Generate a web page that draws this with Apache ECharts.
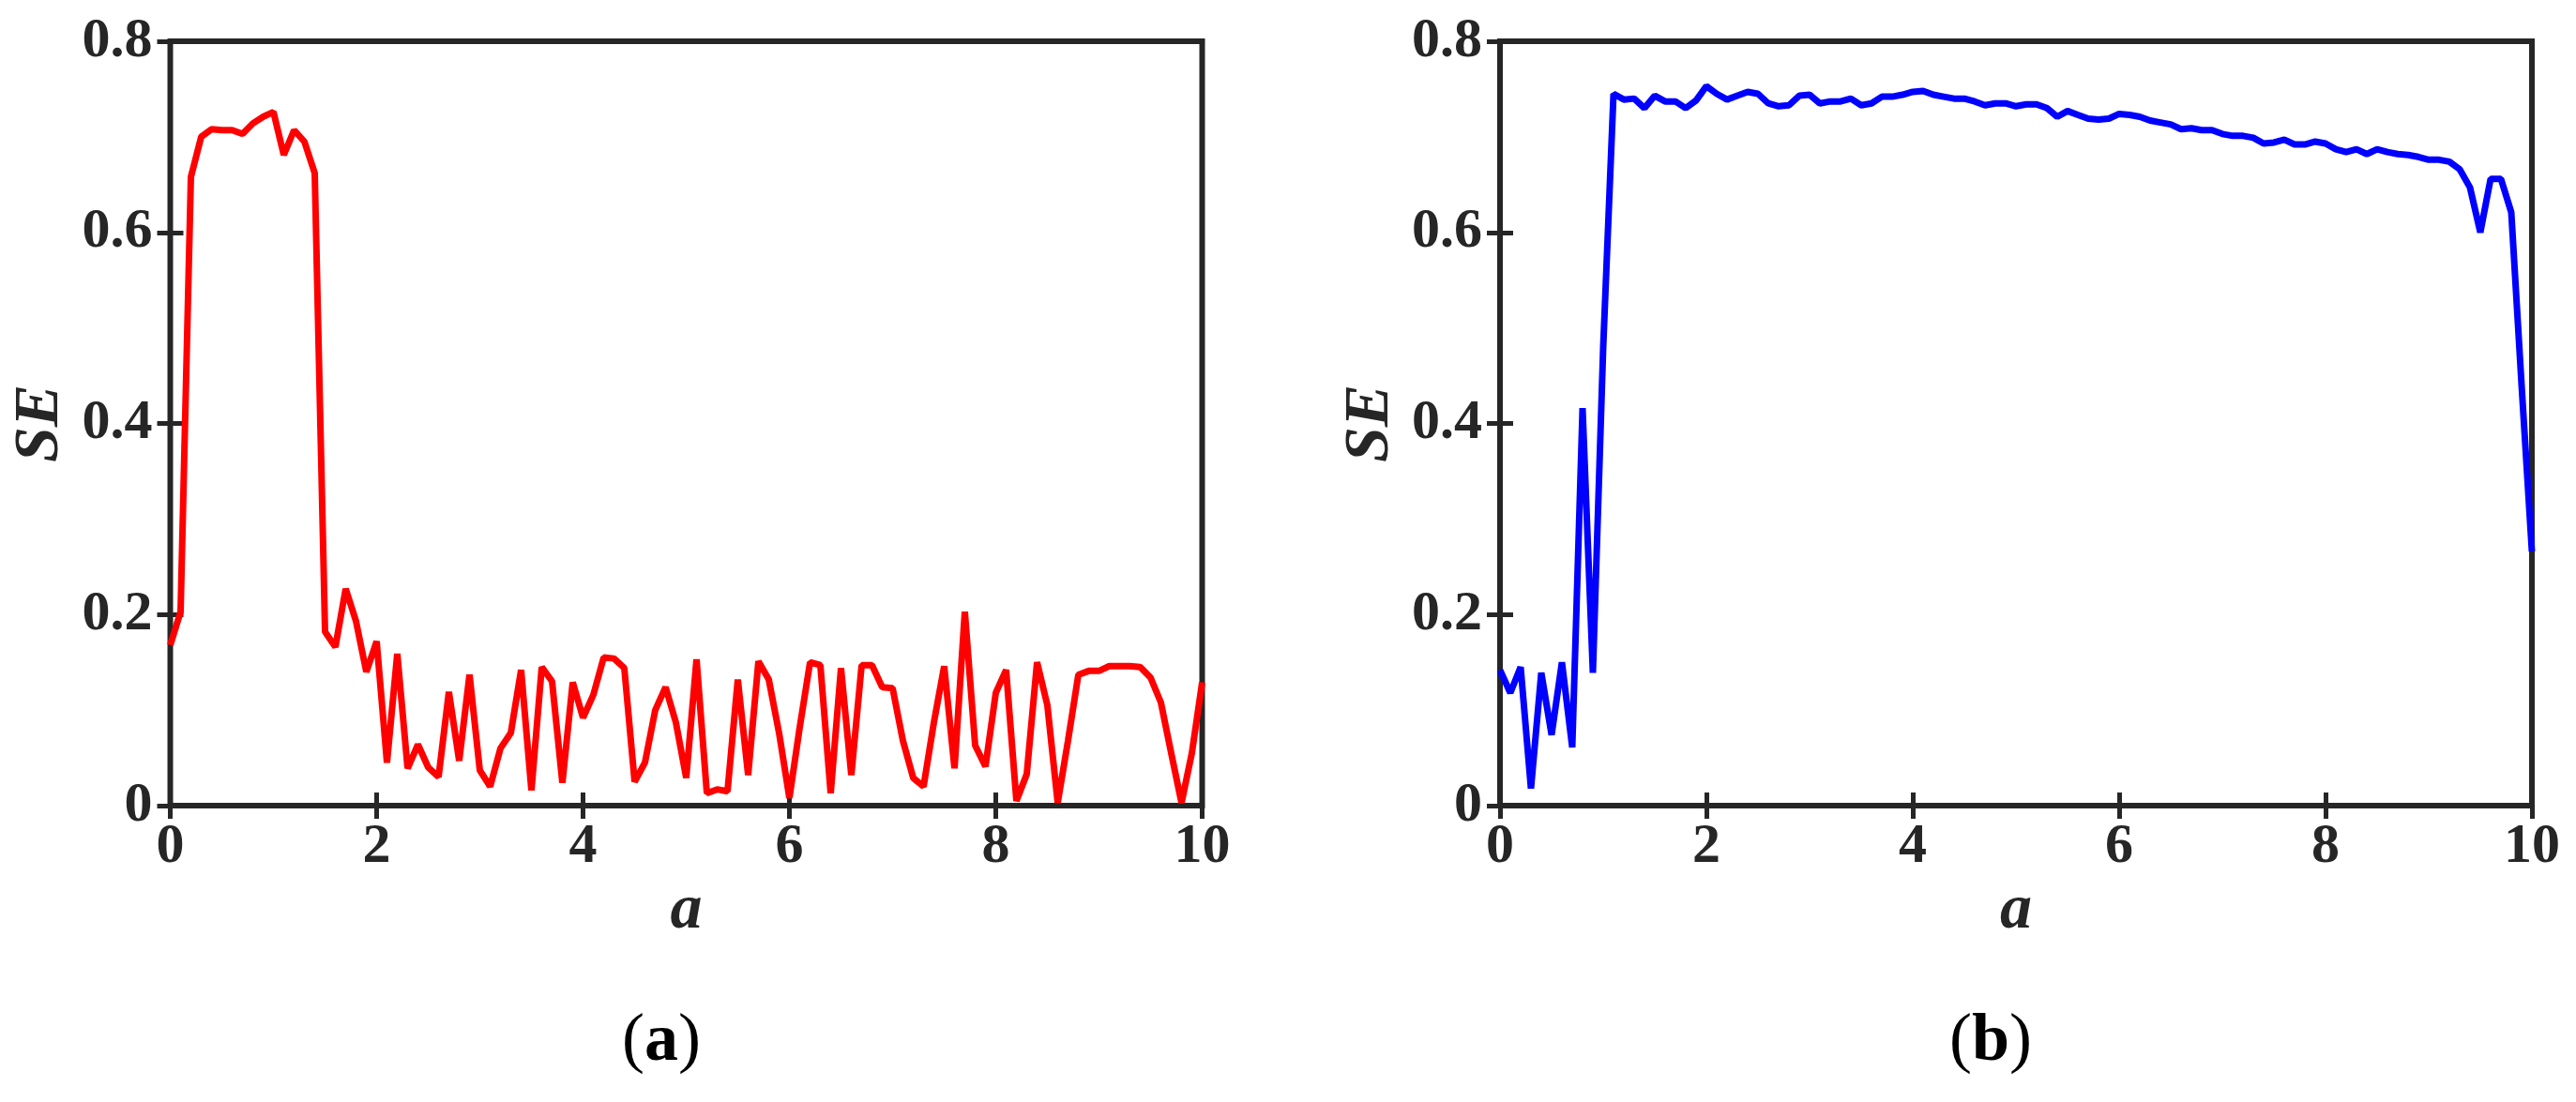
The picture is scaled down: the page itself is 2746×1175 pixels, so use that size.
<!DOCTYPE html>
<html>
<head>
<meta charset="utf-8">
<script src="https://cdn.jsdelivr.net/npm/echarts@6/dist/echarts.min.js"></script>
<style>
  html, body { margin: 0; padding: 0; background: #fff; }
  #chart { width: 2746px; height: 1175px; }
</style>
</head>
<body>
<div id="chart"></div>
<script>
// a (horizontal axis), step 0.1
var aValues = [0,0.1,0.2,0.3,0.4,0.5,0.6,0.7,0.8,0.9,1,1.1,1.2,1.3,1.4,1.5,1.6,1.7,1.8,1.9,
  2,2.1,2.2,2.3,2.4,2.5,2.6,2.7,2.8,2.9,3,3.1,3.2,3.3,3.4,3.5,3.6,3.7,3.8,3.9,
  4,4.1,4.2,4.3,4.4,4.5,4.6,4.7,4.8,4.9,5,5.1,5.2,5.3,5.4,5.5,5.6,5.7,5.8,5.9,
  6,6.1,6.2,6.3,6.4,6.5,6.6,6.7,6.8,6.9,7,7.1,7.2,7.3,7.4,7.5,7.6,7.7,7.8,7.9,
  8,8.1,8.2,8.3,8.4,8.5,8.6,8.7,8.8,8.9,9,9.1,9.2,9.3,9.4,9.5,9.6,9.7,9.8,9.9,10];

// panel (a), red
var seRed = [0.168,0.203,0.658,0.700,0.708,0.707,0.707,0.703,0.714,0.721,
  0.726,0.681,0.707,0.695,0.662,0.182,0.166,0.227,0.193,0.140,
  0.172,0.045,0.159,0.039,0.064,0.040,0.030,0.119,0.047,0.137,
  0.037,0.020,0.060,0.076,0.142,0.016,0.145,0.130,0.024,0.129,
  0.092,0.116,0.155,0.154,0.144,0.025,0.045,0.100,0.124,0.087,
  0.029,0.153,0.013,0.017,0.015,0.132,0.032,0.151,0.132,0.076,
  0.008,0.082,0.150,0.147,0.013,0.144,0.032,0.147,0.147,0.124,
  0.123,0.068,0.029,0.020,0.087,0.146,0.039,0.203,0.063,0.041,
  0.118,0.142,0.005,0.033,0.150,0.105,0.003,0.068,0.137,0.141,
  0.141,0.146,0.146,0.146,0.145,0.134,0.108,0.055,0.003,0.055,0.129];

// panel (b), blue
var seBlue = [0.142,0.118,0.145,0.018,0.139,0.074,0.150,0.061,0.416,0.139,
  0.480,0.745,0.739,0.740,0.730,0.743,0.737,0.737,0.730,0.738,
  0.753,0.745,0.739,0.743,0.747,0.745,0.735,0.732,0.733,0.743,
  0.744,0.735,0.737,0.737,0.740,0.733,0.735,0.742,0.742,0.744,
  0.747,0.748,0.744,0.742,0.740,0.740,0.737,0.733,0.735,0.735,
  0.732,0.734,0.734,0.730,0.721,0.727,0.723,0.719,0.718,0.719,
  0.724,0.723,0.721,0.717,0.715,0.713,0.708,0.709,0.707,0.707,
  0.703,0.701,0.701,0.699,0.693,0.694,0.697,0.692,0.692,0.695,
  0.693,0.687,0.684,0.687,0.682,0.687,0.684,0.682,0.681,0.679,
  0.676,0.676,0.674,0.666,0.647,0.600,0.656,0.656,0.621,0.440,0.266];

var panelLabels = ['a', 'b'];
var xName = 'a';
var yName = 'SE';

var axisColor = '#262626';
var serif = '"Liberation Serif", "Times New Roman", serif';

function pairs(ys) {
  return ys.map(function (y, i) { return [aValues[i], y]; });
}

function xAxisFor(gi, top) {
  return {
    type: 'value', gridIndex: gi, position: top ? 'top' : 'bottom',
    min: 0, max: 10, interval: 2,
    name: top ? '' : xName, nameLocation: 'middle', nameGap: 50,
    nameTextStyle: { fontFamily: serif, fontSize: 68, fontWeight: 'bold', fontStyle: 'italic', color: axisColor },
    axisLine: { show: false },
    axisTick: { show: true, inside: true, length: 14, lineStyle: { color: axisColor, width: 5 } },
    axisLabel: { show: !top, margin: 14, showMinLabel: true, showMaxLabel: true,
      fontFamily: serif, fontSize: 60, fontWeight: 'bold', color: axisColor },
    splitLine: { show: false }
  };
}

function yAxisFor(gi, right) {
  return {
    type: 'value', gridIndex: gi, position: right ? 'right' : 'left',
    min: 0, max: 0.8, interval: 0.2,
    name: right ? '' : yName, nameLocation: 'middle', nameGap: 104, nameRotate: 90,
    nameTextStyle: { fontFamily: serif, fontSize: 68, fontWeight: 'bold', fontStyle: 'italic', color: axisColor },
    axisLine: { show: false },
    axisTick: { show: true, inside: true, length: 14, lineStyle: { color: axisColor, width: 5 } },
    axisLabel: { show: !right, margin: 19, showMinLabel: true, showMaxLabel: true,
      fontFamily: serif, fontSize: 60, fontWeight: 'bold', color: axisColor },
    splitLine: { show: false }
  };
}

var chart = echarts.init(document.getElementById('chart'), null, { renderer: 'canvas' });

var option = {
  animation: false,
  backgroundColor: '#ffffff',
  grid: [
    { left: 181.5, top: 44, width: 1100, height: 815, show: true, borderWidth: 6, borderColor: axisColor, backgroundColor: 'transparent' },
    { left: 1599, top: 44, width: 1100, height: 815, show: true, borderWidth: 6, borderColor: axisColor, backgroundColor: 'transparent' }
  ],
  xAxis: [xAxisFor(0, false), xAxisFor(0, true), xAxisFor(1, false), xAxisFor(1, true)],
  yAxis: [yAxisFor(0, false), yAxisFor(0, true), yAxisFor(1, false), yAxisFor(1, true)],
  series: [
    {
      type: 'line', xAxisIndex: 0, yAxisIndex: 0, data: pairs(seRed),
      showSymbol: false, symbol: 'none', color: '#ff0000',
      lineStyle: { color: '#ff0000', width: 7 }
    },
    {
      type: 'line', xAxisIndex: 2, yAxisIndex: 2, data: pairs(seBlue),
      showSymbol: false, symbol: 'none', color: '#0000ff',
      lineStyle: { color: '#0000ff', width: 7 }
    }
  ],
  graphic: [
    {
      type: 'text', x: 705, y: 1111,
      style: {
        text: '{p|(}{b|' + panelLabels[0] + '}{p|)}', align: 'center', verticalAlign: 'middle',
        rich: {
          p: { fontFamily: serif, fontSize: 72, color: '#000' },
          b: { fontFamily: serif, fontSize: 72, fontWeight: 'bold', color: '#000' }
        }
      }
    },
    {
      type: 'text', x: 2122, y: 1111,
      style: {
        text: '{p|(}{b|' + panelLabels[1] + '}{p|)}', align: 'center', verticalAlign: 'middle',
        rich: {
          p: { fontFamily: serif, fontSize: 72, color: '#000' },
          b: { fontFamily: serif, fontSize: 72, fontWeight: 'bold', color: '#000' }
        }
      }
    }
  ]
};

chart.setOption(option);
</script>
</body>
</html>
